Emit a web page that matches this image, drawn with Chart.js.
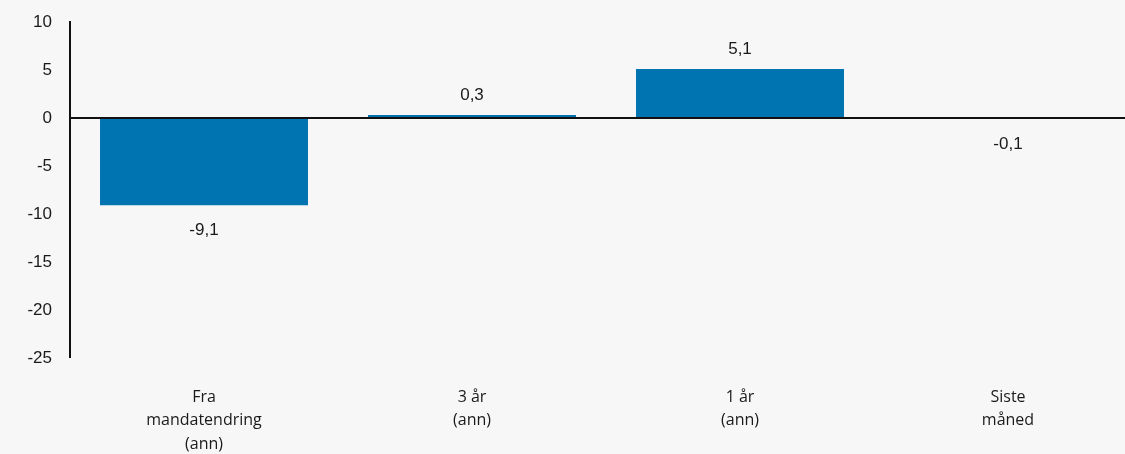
<!DOCTYPE html>
<html>
<head>
<meta charset="utf-8">
<script src="https://cdn.jsdelivr.net/npm/chart.js@4.4.1/dist/chart.umd.min.js"></script>
<style>
  html, body { margin: 0; padding: 0; background: #f7f7f7; overflow: hidden; }
  #wrap { width: 1150px; height: 454px; }
</style>
</head>
<body>
<div id="wrap"><canvas id="bar-chart" width="1150" height="454"></canvas></div>
<script>
var categories = [
  ['Fra', 'mandatendring', '(ann)'],
  ['3 år', '(ann)'],
  ['1 år', '(ann)'],
  ['Siste', 'måned']
];
var returns = [-9.1, 0.3, 5.1, -0.1];
var yTicks = [10, 5, 0, -5, -10, -15, -20, -25];

var fmt = v => v.toFixed(1).replace('.', ',');

// value labels above positive bars, below negative ones
var valueLabels = {
  id: 'valueLabels',
  afterDatasetsDraw(chart) {
    var ctx = chart.ctx;
    var meta = chart.getDatasetMeta(0);
    ctx.save();
    ctx.font = '17px "Liberation Sans", Arial, sans-serif';
    ctx.fillStyle = '#1a1a1a';
    ctx.textAlign = 'center';
    ctx.textBaseline = 'middle';
    meta.data.forEach((bar, i) => {
      var v = returns[i];
      var y = v >= 0 ? bar.y - 20 : bar.y + 25;
      ctx.fillText(fmt(v), bar.x, y);
    });
    ctx.restore();
  }
};

var config = {
  type: 'bar',
  data: {
    labels: categories,
    datasets: [
      {
        data: returns,
        backgroundColor: '#0073b1',
        borderWidth: 0,
        categoryPercentage: 1,
        barPercentage: 0.776
      }
    ]
  },
  options: {
    responsive: false,
    animation: false,
    layout: { padding: { top: 22, right: 8, bottom: 0, left: 0 } },
    plugins: {
      legend: { display: false },
      tooltip: { enabled: false }
    },
    scales: {
      x: {
        afterFit: scale => {
          scale.height = 96;
          scale.paddingLeft = 0;
          scale.paddingRight = 0;
        },
        grid: { display: false, drawTicks: false },
        border: { display: false },
        ticks: {
          color: '#1a1a1a',
          padding: 28,
          maxRotation: 0,
          autoSkip: false,
          font: { family: '"Open Sans", sans-serif', size: 16, lineHeight: 1.45 }
        }
      },
      y: {
        min: -25,
        max: 10,
        afterFit: scale => {
          scale.width = 70;
          scale.paddingTop = 0;
          scale.paddingBottom = 0;
        },
        afterBuildTicks: scale => { scale.ticks = yTicks.map(v => ({ value: v })); },
        border: { display: true, color: '#111', width: 2 },
        grid: {
          drawTicks: false,
          color: c => (c.tick && c.tick.value === 0 ? '#111' : 'rgba(0,0,0,0)'),
          lineWidth: c => (c.tick && c.tick.value === 0 ? 2 : 0)
        },
        ticks: {
          color: '#1a1a1a',
          padding: 18,
          font: { family: '"Liberation Sans", Arial, sans-serif', size: 17 },
          callback: v => String(v)
        }
      }
    }
  },
  plugins: [valueLabels]
};

var ctx = document.getElementById('bar-chart').getContext('2d');
var myChart = new Chart(ctx, config);
</script>
</body>
</html>
